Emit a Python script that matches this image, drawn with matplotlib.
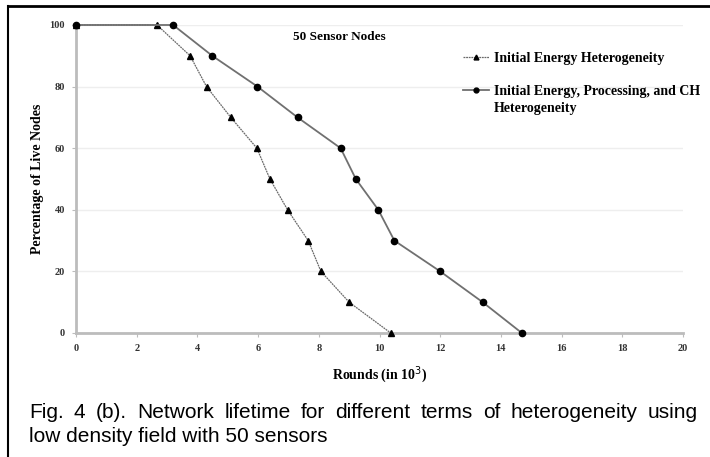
import matplotlib.pyplot as plt
from matplotlib.lines import Line2D
import numpy as np

# Rounds (in 10^3) at which each percentage of live nodes is reached
rounds_energy = [0.0, 2.67, 3.76, 4.3, 5.1, 5.96, 6.39, 6.97, 7.65, 8.07, 9.0, 10.37]
alive_energy = [100, 100, 90, 80, 70, 60, 50, 40, 30, 20, 10, 0]
rounds_full = [0.0, 3.2, 4.49, 5.98, 7.3, 8.72, 9.22, 9.96, 10.49, 12.0, 13.4, 14.69]
alive_full = [100, 100, 90, 80, 70, 60, 50, 40, 30, 20, 10, 0]
labels = ['Initial Energy Heterogeneity',
          'Initial Energy, Processing, and CH\nHeterogeneity']
x_ticks = np.arange(0, 21, 2)
y_ticks = np.arange(0, 101, 20)
caption_lines = ['Fig. 4 (b). Network lifetime for different terms of heterogeneity using',
                 'low density field with 50 sensors']

serif = 'Liberation Serif'
W, H = 710, 457
fig = plt.figure(figsize=(W / 100, H / 100), dpi=100)
ax = fig.add_axes([76 / W, 1 - 333 / H, (683 - 76) / W, (333 - 25) / H])

l1, = ax.plot(rounds_energy, alive_energy, color='#6a6a6a', lw=0.9,
              linestyle=(0, (1.5, 0.6)), marker='^', ms=4, mfc='black', mec='black',
              clip_on=False, zorder=3)
l2, = ax.plot(rounds_full, alive_full, color='#707070', lw=1.3,
              marker='o', ms=4.5, mfc='black', mec='black', clip_on=False, zorder=3)

ax.set_xlim(0, 20)
ax.set_ylim(0, 100)
ax.set_xticks(x_ticks)
ax.set_yticks(y_ticks)
ax.grid(axis='y', color='#eeeeee', lw=1)
ax.set_axisbelow(True)
for side in ('top', 'right'):
    ax.spines[side].set_visible(False)
for side in ('left', 'bottom'):
    ax.spines[side].set_color('#bcbcbc')
    ax.spines[side].set_linewidth(2)
ax.tick_params(length=3, width=0.8, color='#bcbcbc', pad=5, labelsize=7.5)
for lab in ax.get_xticklabels() + ax.get_yticklabels():
    lab.set_fontfamily(serif)
    lab.set_fontweight('bold')
    lab.set_color('#333333')

ax.set_xlabel('Rounds (in 10$^3$)', fontfamily=serif, fontweight='bold',
              fontsize=10, labelpad=8)
ax.set_ylabel('Percentage of Live Nodes', fontfamily=serif, fontweight='bold',
              fontsize=10, labelpad=4)
ax.text((339 - 76) / 607, 0.962, '50 Sensor Nodes', transform=ax.transAxes,
        ha='center', va='center', fontfamily=serif, fontweight='bold', fontsize=9.5)

# legend: handles sit level with the first line of each label
font = dict(family=serif, weight='bold', size=10)
first_lines = [lab.split('\n')[0] for lab in labels]
leg = fig.legend([l1, l2], first_lines, loc='upper left',
                 bbox_to_anchor=(456 / W, 1 - 45 / H), frameon=False,
                 handlelength=1.9, handletextpad=0.3, labelspacing=1.45,
                 borderpad=0, prop=font)
for h in leg.legend_handles:
    h.set_markersize(3.5)
fig.canvas.draw()
renderer = fig.canvas.get_renderer()
t2 = leg.get_texts()[1]
bb = t2.get_window_extent(renderer)
fig.text(bb.x0 / W, (bb.y0 - 17) / H, labels[1].split('\n')[1], ha='left', va='bottom',
         fontfamily=serif, fontweight='bold', fontsize=10)

# justified caption
left, right = 29, 698
base_y = [418, 442]
cap_font = dict(fontfamily='Liberation Sans', fontsize=15, va='baseline', ha='left')
words = caption_lines[0].split(' ')
texts = [fig.text(0, 1 - base_y[0] / H, w, **cap_font) for w in words]
widths = [t.get_window_extent(renderer).width for t in texts]
gap = (right - left - sum(widths)) / (len(words) - 1)
x = left
for t, w in zip(texts, widths):
    t.set_x(x / W)
    x += w + gap
fig.text(left / W, 1 - base_y[1] / H, caption_lines[1], **cap_font)

# frame around the figure
fig.add_artist(Line2D([8 / W, 8 / W], [0, 1 - 6 / H], color='black', lw=1.5))
fig.add_artist(Line2D([8 / W, 1], [1 - 6 / H, 1 - 6 / H], color='black', lw=2))

fig.savefig('out.png', dpi=100)
